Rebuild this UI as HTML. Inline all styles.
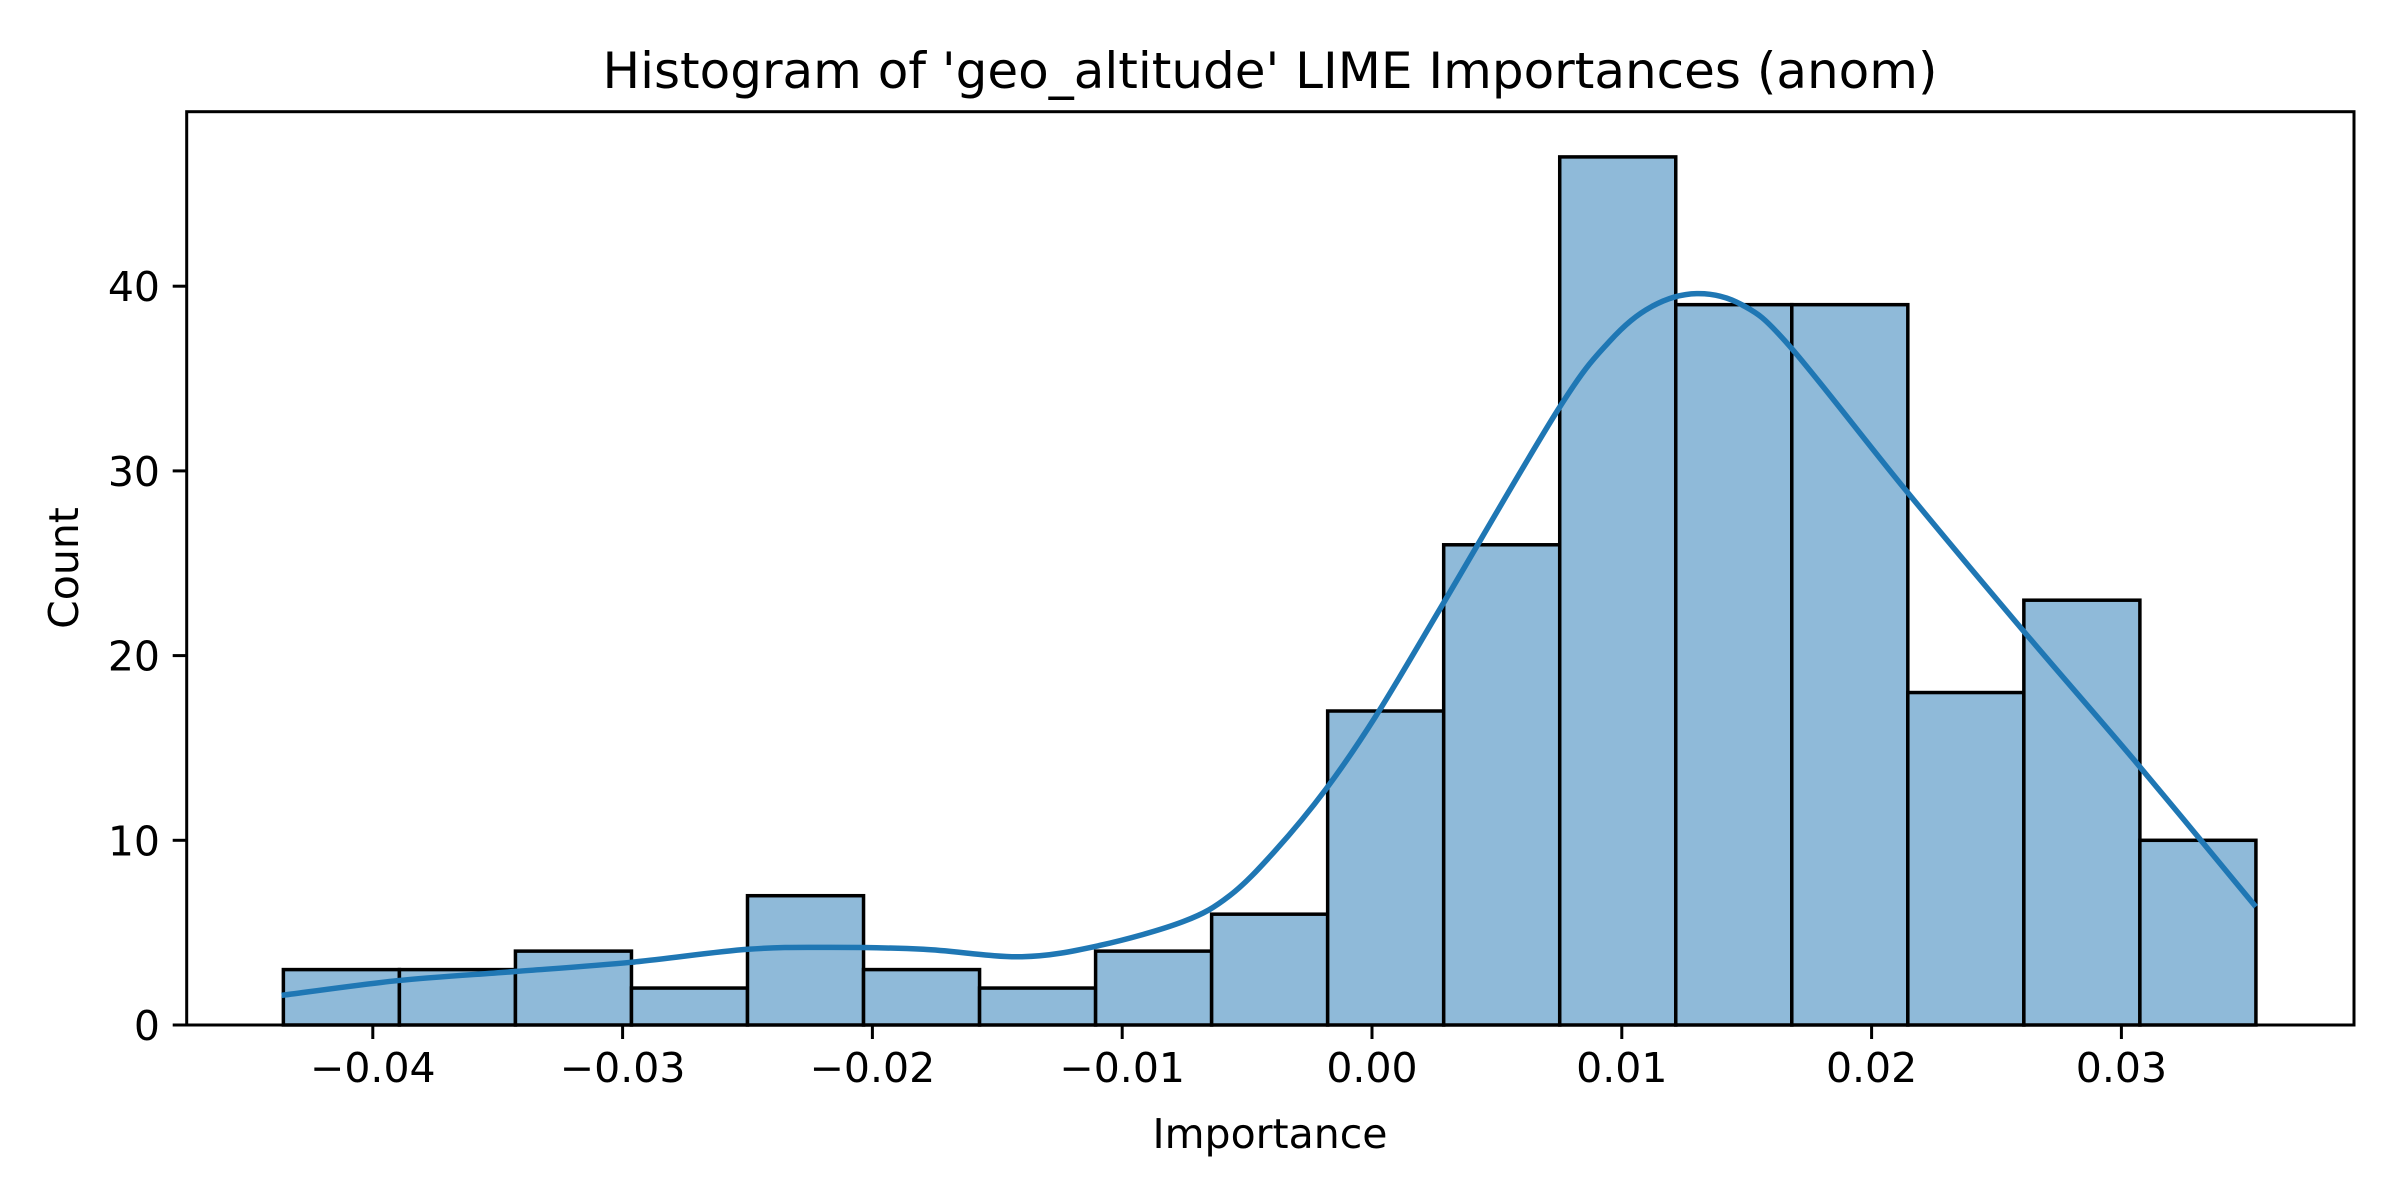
<!DOCTYPE html>
<html><head><meta charset="utf-8"><style>
html,body{margin:0;padding:0;background:#fff;}
svg{display:block;font-family:"DejaVu Sans","Liberation Sans",sans-serif;}
</style></head><body>
<svg id="chart" width="2400" height="1200" viewBox="0 0 2400 1200" xmlns="http://www.w3.org/2000/svg">
<rect x="0" y="0" width="2400" height="1200" fill="#fff"/>
<text x="1270" y="88" font-size="50" text-anchor="middle">Histogram of 'geo_altitude' LIME Importances (anom)</text>
<g id="bars"></g>
<g id="kde"></g>
<g id="xaxis"></g>
<g id="yaxis"></g>
<rect x="186.7" y="111.7" width="2167.3" height="913.3" fill="none" stroke="#000" stroke-width="3"/>
<text x="1270" y="1148" font-size="41" text-anchor="middle">Importance</text>
<text x="0" y="0" font-size="41" text-anchor="middle" transform="translate(78,568) rotate(-90)">Count</text>
</svg>
<script>
const binStart = -0.04358;
const binWidth = 0.004645;
const counts = [3,3,4,2,7,3,2,4,6,17,26,47,39,39,18,23,10];
const kdeX = [-0.04365,-0.03903,-0.03424,-0.02962,-0.02498,-0.02162,-0.01796,-0.01402,-0.01093,-0.00756,-0.0057,-0.0039,-0.00183,0.00014,0.0028,0.00744,0.0095,0.0112,0.0130,0.0148,0.01669,0.02134,0.0261,0.0306,0.03538];
const kdeY = [1.6,2.4,2.9,3.4,4.1,4.2,4.1,3.7,4.3,5.6,7.0,9.4,12.8,16.7,22.7,33.3,37.0,38.9,39.6,39.0,36.8,29.0,21.3,14.2,6.4];
const xTicks = [-0.04,-0.03,-0.02,-0.01,0.00,0.01,0.02,0.03];
const xTickLabels = ["\u22120.04","\u22120.03","\u22120.02","\u22120.01","0.00","0.01","0.02","0.03"];
const yTicks = [0,10,20,30,40];
const yTickLabels = ["0","10","20","30","40"];

const NS = "http://www.w3.org/2000/svg";
const X0 = 1372, XS = 24980;
const Y0 = 1025, YS = 18.47;
function sx(v){return X0 + v*XS;}
function sy(v){return Y0 - v*YS;}
function mk(tag, attrs, parent){const e=document.createElementNS(NS,tag);for(const k in attrs)e.setAttribute(k,attrs[k]);parent.appendChild(e);return e;}

const bars = document.getElementById('bars');
counts.forEach((c,i)=>{
  const x1 = sx(binStart + i*binWidth), x2 = sx(binStart + (i+1)*binWidth);
  const r = mk('rect',{x:x1,y:sy(c),width:x2-x1,height:sy(0)-sy(c),fill:'#8fbad9',stroke:'#000','stroke-width':3.5},bars);
  
  
});

const kde = document.getElementById('kde');
const pts = kdeX.map((x,i)=>[sx(x), sy(kdeY[i])]);
let d = 'M' + pts[0][0].toFixed(1) + ',' + pts[0][1].toFixed(1);
for (let i=0;i<pts.length-1;i++){
  const p0 = pts[Math.max(0,i-1)], p1 = pts[i], p2 = pts[i+1], p3 = pts[Math.min(pts.length-1,i+2)];
  const c1 = [p1[0]+(p2[0]-p0[0])/6, p1[1]+(p2[1]-p0[1])/6];
  const c2 = [p2[0]-(p3[0]-p1[0])/6, p2[1]-(p3[1]-p1[1])/6];
  d += 'C' + c1[0].toFixed(1)+','+c1[1].toFixed(1)+' '+c2[0].toFixed(1)+','+c2[1].toFixed(1)+' '+p2[0].toFixed(1)+','+p2[1].toFixed(1);
}
const p = mk('path',{d:d,fill:'none',stroke:'#1f77b4','stroke-width':5.5,'stroke-linejoin':'round'},kde);



const xa = document.getElementById('xaxis');
xTicks.forEach((t,i)=>{
  const l = mk('line',{x1:sx(t),x2:sx(t),y1:Y0,y2:Y0+14,stroke:'#000','stroke-width':3},xa);
  
  
  const tx = mk('text',{x:sx(t),y:1082,'font-size':41,'text-anchor':'middle'},xa);
  tx.textContent = xTickLabels[i];
  
  
});
const ya = document.getElementById('yaxis');
yTicks.forEach((t,i)=>{
  const l = mk('line',{x1:186.7-14,x2:186.7,y1:sy(t),y2:sy(t),stroke:'#000','stroke-width':3},ya);
  
  
  const tx = mk('text',{x:160,y:sy(t)+15,'font-size':41,'text-anchor':'end'},ya);
  tx.textContent = yTickLabels[i];
  
  
});
</script>
</body></html>
